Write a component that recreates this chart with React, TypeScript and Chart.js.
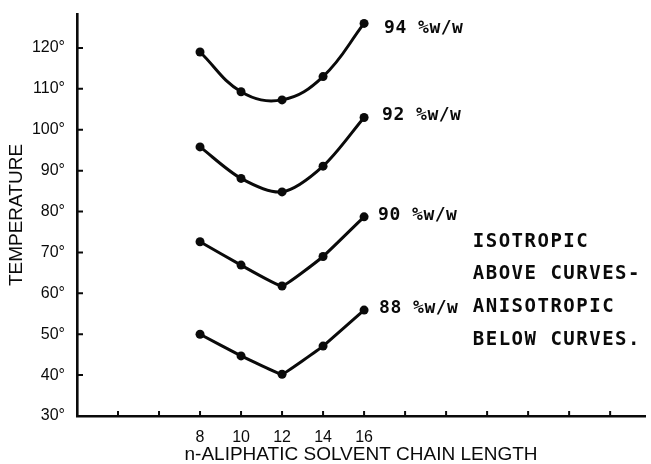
import { useEffect, useRef } from 'react';
import { Chart, registerables } from 'chart.js';

Chart.register(...registerables);

// ---- data ----
const chainLengths = [8, 10, 12, 14, 16];
const series94 = [119, 109.3, 107.3, 113, 126];
const series92 = [95.8, 88.1, 84.8, 91.1, 103];
const series90 = [72.6, 66.9, 61.8, 69, 78.7];
const series88 = [50, 44.7, 40.2, 47.1, 55.9];
const seriesLabels = ['94 %w/w', '92 %w/w', '90 %w/w', '88 %w/w'];
const xTickValues = [4, 6, 8, 10, 12, 14, 16, 18, 20, 22, 24, 26, 28];
const xLabeledTicks = [8, 10, 12, 14, 16];
const yTickValues = [30, 40, 50, 60, 70, 80, 90, 100, 110, 120];
const noteLines = ['ISOTROPIC', 'ABOVE CURVES-', 'ANISOTROPIC', 'BELOW CURVES.'];
const noteAnchor = { x: 21.3, y: 72.6 };

const INK = '#0a0a0a';
const tensions = [0.4, 0.3, 0.1, 0.05];
const labelOffsets = [
  { dx: 20, dy: 5 },
  { dx: 18, dy: -2 },
  { dx: 14, dy: -2 },
  { dx: 15, dy: -2 },
];

const overlayPlugin = {
  id: 'overlay',
  afterDraw(chart: any) {
    const ctx = chart.ctx as CanvasRenderingContext2D;
    const xs = chart.scales.x;
    const ys = chart.scales.y;
    ctx.save();
    ctx.strokeStyle = INK;
    ctx.fillStyle = INK;
    ctx.lineWidth = 2;
    ctx.beginPath();
    xs.ticks.forEach((t: any) => {
      const px = xs.getPixelForValue(t.value);
      ctx.moveTo(px, ys.bottom);
      ctx.lineTo(px, ys.bottom - 5);
    });
    ys.ticks.forEach((t: any) => {
      const py = ys.getPixelForValue(t.value);
      ctx.moveTo(xs.left, py);
      ctx.lineTo(xs.left + 6, py);
    });
    ctx.stroke();

    (ctx as any).letterSpacing = '0.5px';
    ctx.font = 'bold 18px "DejaVu Sans Mono"';
    ctx.textBaseline = 'middle';
    ctx.textAlign = 'left';
    chart.data.datasets.forEach((_ds: any, i: number) => {
      const meta = chart.getDatasetMeta(i);
      const last = meta.data[meta.data.length - 1];
      ctx.fillText(seriesLabels[i], last.x + labelOffsets[i].dx, last.y + labelOffsets[i].dy);
    });

    (ctx as any).letterSpacing = '1.5px';
    ctx.font = 'bold 19px "DejaVu Sans Mono"';
    const nx = xs.getPixelForValue(noteAnchor.x);
    const ny = ys.getPixelForValue(noteAnchor.y);
    noteLines.forEach((line, i) => {
      ctx.fillText(line, nx, ny + i * 32.7);
    });
    ctx.restore();
  },
};

export default function App() {
  const canvasRef = useRef<HTMLCanvasElement | null>(null);

  useEffect(() => {
    if (!canvasRef.current) return;
    const allSeries = [series94, series92, series90, series88];
    const chart = new Chart(canvasRef.current, {
      type: 'line',
      data: {
        datasets: allSeries.map((s, i) => ({
          label: seriesLabels[i],
          data: chainLengths.map((x, j) => ({ x, y: s[j] })),
          borderColor: INK,
          backgroundColor: INK,
          borderWidth: 3,
          pointRadius: 4.5,
          pointBackgroundColor: INK,
          pointBorderWidth: 0,
          tension: tensions[i],
          fill: false,
        })),
      },
      options: {
        animation: false,
        responsive: false,
        layout: { padding: { top: 14, right: 6, left: 0, bottom: 0 } },
        plugins: {
          legend: { display: false },
          tooltip: { enabled: false },
        },
        scales: {
          x: {
            type: 'linear',
            min: 2,
            max: 29.7,
            afterBuildTicks: (scale: any) => {
              scale.ticks = xTickValues.map((v) => ({ value: v }));
            },
            afterFit: (scale: any) => {
              scale.height = 48;
            },
            grid: { display: false },
            border: { display: true, color: INK, width: 2.6 },
            ticks: {
              color: INK,
              padding: 4,
              maxRotation: 0,
              autoSkip: false,
              font: { family: '"Liberation Sans", Arial, sans-serif', size: 16 },
              callback: (v: any) => (xLabeledTicks.includes(Number(v)) ? String(v) : ''),
            },
            title: {
              display: true,
              text: 'n-ALIPHATIC SOLVENT CHAIN LENGTH',
              color: INK,
              font: { family: '"Liberation Sans", Arial, sans-serif', size: 19, lineHeight: 1 },
              padding: { top: 0, bottom: 0 },
            },
          },
          y: {
            type: 'linear',
            min: 30,
            max: 128.3,
            afterBuildTicks: (scale: any) => {
              scale.ticks = yTickValues.map((v) => ({ value: v }));
            },
            afterFit: (scale: any) => {
              scale.width = 77;
            },
            grid: { display: false },
            border: { display: true, color: INK, width: 2.6 },
            ticks: {
              color: INK,
              padding: 4,
              autoSkip: false,
              font: { family: '"Liberation Sans", Arial, sans-serif', size: 16 },
              callback: (v: any) => `${v}°`,
            },
            title: {
              display: true,
              text: 'TEMPERATURE',
              color: INK,
              font: { family: '"Liberation Sans", Arial, sans-serif', size: 19 },
              padding: { top: 5, bottom: 0 },
            },
          },
        },
      },
      plugins: [overlayPlugin],
    });
    return () => chart.destroy();
  }, []);

  return (
    <div style={{ position: 'fixed', left: 0, top: 0, width: 651, height: 464, background: '#fff' }}>
      <canvas ref={canvasRef} width={651} height={464} />
    </div>
  );
}
